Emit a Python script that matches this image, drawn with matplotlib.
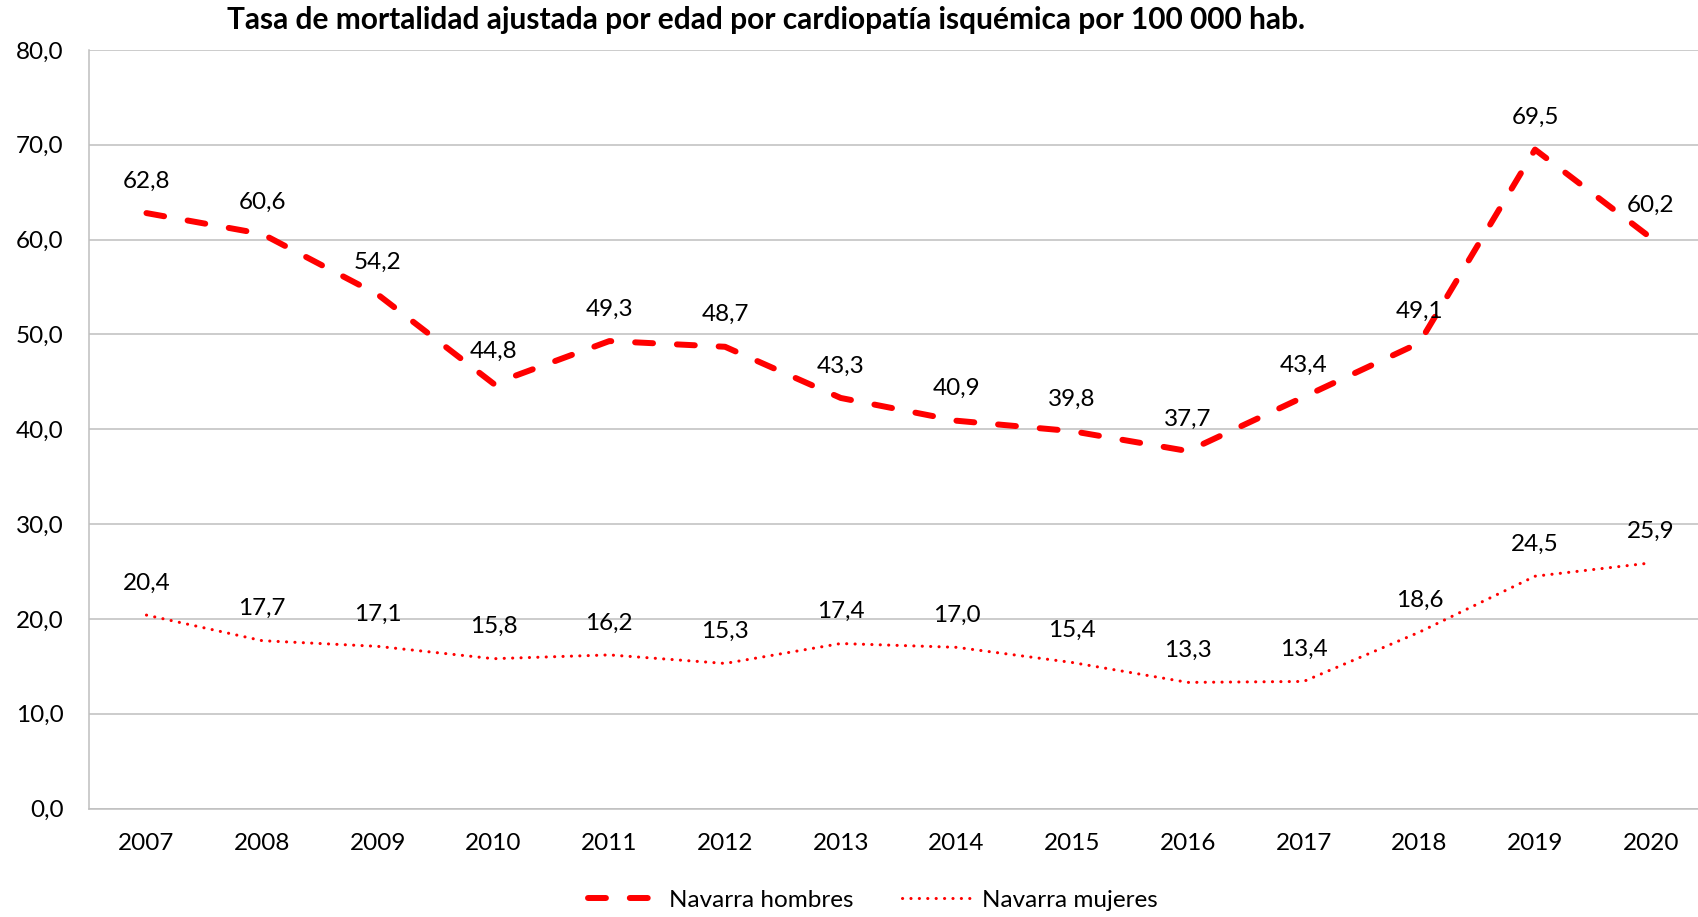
import matplotlib
matplotlib.use("Agg")
import matplotlib.pyplot as plt

years = ["2007", "2008", "2009", "2010", "2011", "2012", "2013",
         "2014", "2015", "2016", "2017", "2018", "2019", "2020"]
hombres = [62.8, 60.6, 54.2, 44.8, 49.3, 48.7, 43.3, 40.9, 39.8, 37.7, 43.4, 49.1, 69.5, 60.2]
mujeres = [20.4, 17.7, 17.1, 15.8, 16.2, 15.3, 17.4, 17.0, 15.4, 13.3, 13.4, 18.6, 24.5, 25.9]
yticks = [0, 10, 20, 30, 40, 50, 60, 70, 80]
title = "Tasa de mortalidad ajustada por edad por cardiopatía isquémica por 100 000 hab."

plt.rcParams['font.family'] = ['Lato', 'DejaVu Sans']
FS = 17.5

fig = plt.figure(figsize=(16.99, 9.17), dpi=100)
ax = fig.add_axes([88.6/1699, 1 - 808.5/917, 1620/1699, (808.5 - 50)/917])

x = list(range(len(years)))
red = "#FF0000"
l1, = ax.plot(x, hombres, color=red, lw=4.3, linestyle=(0, (3, 4)),
              dash_capstyle='round', dash_joinstyle='round', label="Navarra hombres")
l2, = ax.plot(x, mujeres, color=red, lw=2.2, linestyle=(0, (0.05, 2.7)),
              dash_capstyle='round', dash_joinstyle='round', label="Navarra mujeres")

for xi, v in zip(x, hombres):
    ax.annotate(f"{v:.1f}".replace(".", ","), (xi, v), xytext=(0, 23),
                textcoords="offset points", ha="center", va="center", fontsize=FS)
for xi, v in zip(x, mujeres):
    ax.annotate(f"{v:.1f}".replace(".", ","), (xi, v), xytext=(0, 23),
                textcoords="offset points", ha="center", va="center", fontsize=FS)

ax.set_xlim(-0.5, len(years) - 0.5)
ax.set_ylim(0, 80)
ax.set_yticks(yticks)
ax.set_yticklabels([f"{t:.1f}".replace(".", ",") for t in yticks], fontsize=FS)
ax.set_xticks(x)
ax.set_xticklabels(years, fontsize=FS)
ax.tick_params(axis='both', length=0)
ax.tick_params(axis='x', pad=18)
ax.tick_params(axis='y', pad=18)
ax.grid(axis='y', color="#BFBFBF", lw=1.1)
ax.set_axisbelow(True)
for s in ["top", "right"]:
    ax.spines[s].set_visible(False)
for s in ["left", "bottom"]:
    ax.spines[s].set_color("#BFBFBF")
    ax.spines[s].set_linewidth(1.1)

fig.text(766/1699, 1 - 20/917, title, ha="center", va="center",
         fontsize=21.5, fontweight="bold")

fig.legend(handles=[l1, l2], loc="center", bbox_to_anchor=(873/1699, 1 - 900/917),
           ncol=2, frameon=False, fontsize=FS, handlelength=3.0, columnspacing=2.0,
           handletextpad=0.3)

fig.savefig("out.png", dpi=100)
